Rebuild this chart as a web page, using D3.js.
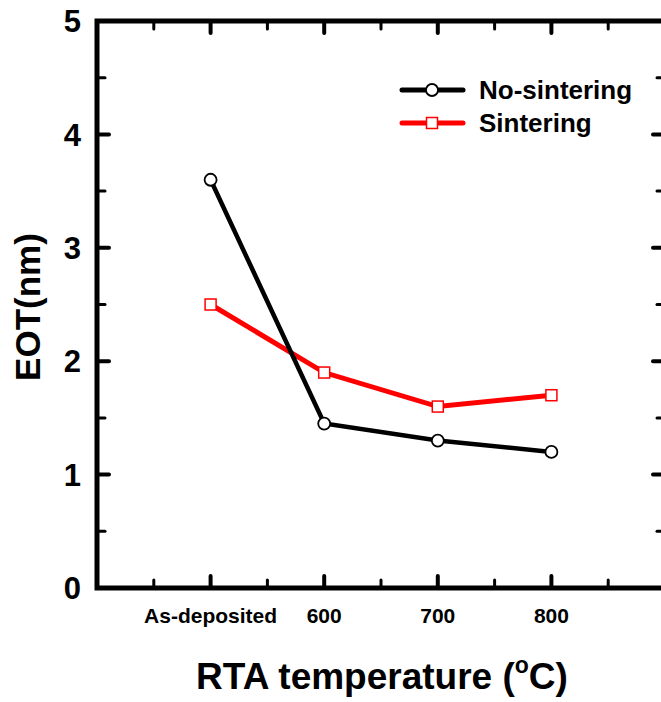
<!DOCTYPE html>
<html>
<head>
<meta charset="utf-8">
<script src="https://cdn.jsdelivr.net/npm/d3@7"></script>
<style>
  html, body { margin: 0; padding: 0; background: #fff; }
  svg { display: block; font-family: "Liberation Sans", Arial, sans-serif; font-weight: bold; }
</style>
</head>
<body>
<svg id="chart" width="661" height="702"></svg>
<script>
const categories = ['As-deposited', '600', '700', '800'];
const noSintering = [3.6, 1.45, 1.3, 1.2];
const sintering = [2.5, 1.9, 1.6, 1.7];
const yTicks = [0, 1, 2, 3, 4, 5];

const plotLeft = 97, plotTop = 21, plotBottom = 588, plotRight = 665;

const svg = d3.select('#chart');

// x is an index scale: categories sit at 0..3, axis spans -1..4
const x = d3.scaleLinear().domain([-1, 4]).range([plotLeft, plotRight]);
const y = d3.scaleLinear().domain([0, 5]).range([plotBottom, plotTop]);

const axes = svg.append('g');

// frame
axes.append('rect')
  .attr('x', plotLeft).attr('y', plotTop)
  .attr('width', plotRight - plotLeft).attr('height', plotBottom - plotTop)
  .attr('fill', 'none').attr('stroke', '#000').attr('stroke-width', 5);

const majorX = d3.range(0, 4);
const minorX = d3.range(-0.5, 4, 1);
const minorY = d3.range(0.5, 5, 1);

function ticks(vals, len, w, fn) {
  vals.forEach(v => {
    const c = fn(v, len);
    axes.append('line')
      .attr('x1', c[0]).attr('y1', c[1]).attr('x2', c[2]).attr('y2', c[3])
      .attr('stroke', '#000').attr('stroke-width', w).attr('stroke-linecap', 'round');
  });
}
// bottom + top
ticks(majorX, 12, 4, (v, l) => [x(v), plotBottom, x(v), plotBottom - l]);
ticks(minorX, 8, 3, (v, l) => [x(v), plotBottom, x(v), plotBottom - l]);
ticks(majorX, 12, 4, (v, l) => [x(v), plotTop, x(v), plotTop + l]);
ticks(minorX, 8, 3, (v, l) => [x(v), plotTop, x(v), plotTop + l]);
// left + right
ticks(yTicks.slice(1, -1), 12, 4, (v, l) => [plotLeft, y(v), plotLeft + l, y(v)]);
ticks(minorY, 8, 3, (v, l) => [plotLeft, y(v), plotLeft + l, y(v)]);
ticks(yTicks.slice(1, -1), 12, 4, (v, l) => [plotRight, y(v), plotRight - l, y(v)]);
ticks(minorY, 8, 3, (v, l) => [plotRight, y(v), plotRight - l, y(v)]);

// y tick labels
axes.selectAll('.ylab').data(yTicks).enter().append('text')
  .attr('x', 81).attr('y', d => y(d))
  .attr('dy', '0.36em')
  .attr('text-anchor', 'end')
  .attr('font-size', 31)
  .text(d => d);

// x tick labels
axes.selectAll('.xlab').data(categories).enter().append('text')
  .attr('x', (d, i) => x(i)).attr('y', 623)
  .attr('text-anchor', 'middle')
  .attr('font-size', 21)
  .text(d => d);

// axis titles
svg.append('text')
  .attr('transform', 'translate(40,307) rotate(-90)')
  .attr('text-anchor', 'middle')
  .attr('font-size', 35)
  .text('EOT(nm)');

const xt = svg.append('text')
  .attr('x', 382).attr('y', 689)
  .attr('text-anchor', 'middle')
  .attr('font-size', 37);
xt.append('tspan').text('RTA temperature (');
xt.append('tspan').attr('font-size', 23).attr('dy', -16).text('o');
xt.append('tspan').attr('dy', 16).text('C)');

// series
const line = d3.line().x((d, i) => x(i)).y(d => y(d));

svg.append('path').datum(sintering)
  .attr('d', line).attr('fill', 'none')
  .attr('stroke', '#ff0000').attr('stroke-width', 5);
svg.append('path').datum(noSintering)
  .attr('d', line).attr('fill', 'none')
  .attr('stroke', '#000').attr('stroke-width', 4.5);

svg.selectAll('.sq').data(sintering).enter().append('rect')
  .attr('x', (d, i) => x(i) - 5.5).attr('y', d => y(d) - 5.5)
  .attr('width', 11).attr('height', 11)
  .attr('fill', '#fff').attr('stroke', '#ff0000').attr('stroke-width', 1.5);

svg.selectAll('.ci').data(noSintering).enter().append('circle')
  .attr('cx', (d, i) => x(i)).attr('cy', d => y(d))
  .attr('r', 6)
  .attr('fill', '#fff').attr('stroke', '#000').attr('stroke-width', 1.8);

// legend
const legend = [
  { name: 'No-sintering', color: '#000', shape: 'circle', yy: 90 },
  { name: 'Sintering', color: '#ff0000', shape: 'square', yy: 123 }
];
legend.forEach(l => {
  const g = svg.append('g');
  g.append('line')
    .attr('x1', 402).attr('x2', 463).attr('y1', l.yy).attr('y2', l.yy)
    .attr('stroke', l.color).attr('stroke-width', 5).attr('stroke-linecap', 'round');
  if (l.shape === 'circle') {
    g.append('circle').attr('cx', 432).attr('cy', l.yy).attr('r', 6)
      .attr('fill', '#fff').attr('stroke', '#000').attr('stroke-width', 1.8);
  } else {
    g.append('rect').attr('x', 426.5).attr('y', l.yy - 5.5).attr('width', 11).attr('height', 11)
      .attr('fill', '#fff').attr('stroke', '#ff0000').attr('stroke-width', 1.5);
  }
  g.append('text')
    .attr('x', 479).attr('y', l.yy).attr('dy', '0.36em')
    .attr('font-size', 26)
    .text(l.name);
});
</script>
</body>
</html>
